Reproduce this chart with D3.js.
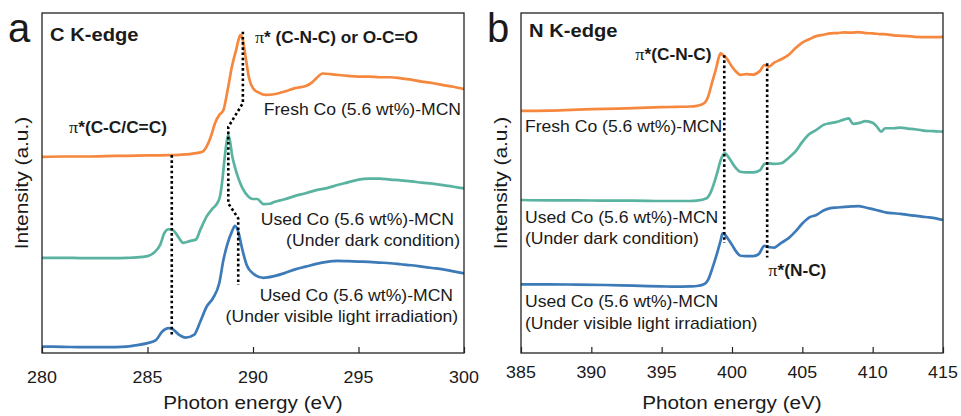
<!DOCTYPE html>
<html><head><meta charset="utf-8">
<script src="https://cdn.jsdelivr.net/npm/d3@7"></script>
<style>
html,body{margin:0;padding:0;background:#fff;}
svg{display:block;font-family:"Liberation Sans",Arial,sans-serif;}
</style></head>
<body><svg id="chart" width="961" height="416"></svg>
<script>
// ---------- DATA ----------
const cTicks = [280, 285, 290, 295, 300];
const nTicks = [385, 390, 395, 400, 405, 410, 415];
const seriesNames = ["Fresh", "Used (dark)", "Used (visible light)"];
const seriesColors = ["#F5883E", "#5AB3A0", "#3D7AB8"];

// C K-edge spectra [photon energy (eV), intensity (a.u., offset)]
const cFresh = [[280,57.7],[281,57.8],[282,57.8],[283,57.9],[284,58.0],[285,58.1],[286,58.2],[286.5,58.3],[287,58.5],[287.3,58.8],[287.6,59.2],[287.8,60.7],[288,63.6],[288.2,67.6],[288.4,70.0],[288.6,71.5],[288.8,77.4],[289,84.2],[289.1,86.8],[289.2,89.1],[289.3,91.8],[289.4,93.5],[289.5,92.5],[289.6,89.1],[289.7,85.0],[289.8,81.2],[290,77.9],[290.3,76.5],[290.6,75.9],[291,76.1],[291.5,76.9],[292,77.9],[292.5,78.5],[292.8,79.6],[293,80.8],[293.3,82.2],[293.7,82.0],[294,81.8],[294.5,81.5],[295,81.3],[295.5,81.3],[296,81.1],[296.5,81.1],[297,80.8],[297.5,80.4],[298,79.8],[298.5,79.4],[299,78.8],[299.5,78.3],[300,77.6]];
const cDark = [[280,28.0],[281,28.0],[282,27.9],[283,27.9],[284,28.0],[284.5,28.1],[285,28.5],[285.3,29.5],[285.6,31.8],[285.8,35.3],[286,36.4],[286.2,36.2],[286.4,34.7],[286.7,32.4],[287,32.9],[287.3,33.4],[287.5,36.2],[287.8,40.1],[288.1,42.6],[288.3,44.0],[288.45,46.5],[288.55,51],[288.65,57],[288.75,62],[288.83,64.1],[288.92,62],[289,58.5],[289.15,54.5],[289.3,51.5],[289.5,48.5],[289.8,45.9],[290,45.3],[290.2,45.3],[290.5,43.8],[290.8,43.9],[291,44.4],[291.5,45.2],[292,46.2],[292.5,47.0],[293,47.9],[293.5,48.5],[294,49.4],[294.5,50.2],[295,51.0],[295.5,51.3],[296,51.3],[296.5,51.0],[297,50.8],[297.5,50.5],[298,50.1],[298.5,49.8],[299,49.4],[299.5,48.9],[300,48.4]];
const cLight = [[280,1.9],[281,1.8],[282,1.7],[283,1.7],[284,1.9],[284.5,2.3],[285,2.9],[285.4,3.8],[285.7,6.3],[286,7.3],[286.2,7.0],[286.5,5.3],[286.8,4.5],[287.2,5.3],[287.5,9.2],[287.8,13.6],[288.1,16.1],[288.4,20.5],[288.6,27.4],[288.8,32.3],[289,35.7],[289.15,37.4],[289.3,35.7],[289.5,30.3],[289.7,25.9],[290,23.4],[290.5,22.1],[291,22.6],[291.5,23.5],[292,24.6],[292.5,25.4],[293,26.2],[293.5,26.8],[294,27.1],[294.5,27.0],[295,26.9],[295.5,26.8],[296,26.6],[296.5,26.4],[297,26.1],[297.5,25.8],[298,25.4],[298.5,25.0],[299,24.6],[299.5,24.0],[300,23.4]];

// N K-edge spectra
const nFresh = [[385,71.2],[387,71.3],[389,71.6],[391,71.8],[393,72.0],[395,72.3],[396,72.4],[397,72.5],[397.5,72.7],[398,73.4],[398.3,75.4],[398.6,79.8],[398.9,84.2],[399.05,86.8],[399.2,88.1],[399.35,87.6],[399.6,86.7],[400,84.2],[400.3,82.7],[400.6,81.8],[401,82.0],[401.5,81.9],[402,83.0],[402.3,84.7],[402.6,84.2],[403,85.4],[403.5,86.4],[404,87.6],[404.5,89.6],[405,91.3],[405.5,92.3],[406,93.2],[406.5,93.6],[407,94.0],[407.5,94.1],[408,94.3],[408.5,94.2],[409,94.4],[409.5,94.1],[410,94.0],[410.5,93.8],[411,93.7],[411.5,93.4],[412,93.3],[412.5,93.2],[413,93.0],[414,92.9],[415,93.0]];
const nDark = [[385,45.0],[387,44.9],[389,44.9],[391,44.8],[393,44.8],[395,44.7],[397,44.7],[397.5,44.8],[398.2,45.5],[398.5,47.4],[398.8,50.9],[399,53.8],[399.2,56.8],[399.5,58.7],[399.8,57.3],[400.2,54.8],[400.6,53.3],[401,53.1],[401.5,53.1],[402,53.8],[402.3,55.6],[402.6,55.8],[403,55.6],[403.5,55.8],[404,57.3],[404.5,59.2],[405,62.1],[405.5,64.4],[406,65.6],[406.5,67.1],[407,67.6],[407.5,68.0],[408,68.7],[408.3,69.0],[408.6,67.4],[409,67.6],[409.5,68.2],[410,67.7],[410.3,66.6],[410.6,65.1],[410.9,66.1],[411.5,66.1],[412,66.3],[412.5,66.0],[413,65.8],[413.5,65.5],[414,65.3],[414.5,65.2],[415,65.1]];
const nLight = [[385,20.2],[387,20.2],[389,20.1],[391,20.0],[393,19.8],[395,19.6],[396,19.5],[397,19.6],[397.5,19.7],[398,20.2],[398.3,21.5],[398.6,24.9],[398.9,28.8],[399.2,33.2],[399.33,35.2],[399.5,34.8],[399.7,33.7],[400,31.8],[400.3,29.8],[400.6,28.6],[401,28.5],[401.5,28.5],[401.9,29.1],[402.3,31.5],[402.7,31.1],[403,31.0],[403.5,32.4],[404,33.7],[404.5,35.7],[405,38.1],[405.5,39.9],[406,40.6],[406.5,41.9],[407,42.6],[407.5,42.8],[408,43.0],[408.5,43.1],[409,43.2],[409.5,42.8],[410,42.3],[410.5,41.8],[411,41.3],[411.5,41.1],[412,40.9],[412.5,40.6],[413,40.4],[413.5,40.1],[414,39.9],[414.5,39.6],[415,39.1]];

// dotted guide lines (data coordinates)
const cGuideA = [[286.15,58.2],[286.15,5.3]];
const cGuideB = [[289.52,94.5],[289.52,73.5],[288.83,66.5],[288.83,44.0],[289.3,39.6],[289.3,20.0]];
const nGuideA = [[399.45,87.6],[399.45,32.4]];
const nGuideB = [[402.5,85.2],[402.5,28.1]];

const sampleLabel = "Co (5.6 wt%)-MCN";

// ---------- DRAW ----------
const svg = d3.select("#chart");
const yTop = 13, yBot = 353;

function stext(g, x, y, str, opt) {
  opt = opt || {};
  const sx = opt.sx || 1.1;
  const t = g.append("text")
    .attr("transform", `translate(${x},${y})` + (opt.rot ? ` rotate(${opt.rot})` : "") + ` scale(${sx},1)`)
    .attr("text-anchor", opt.anchor || "start")
    .attr("font-size", opt.size || 16)
    .attr("font-weight", opt.bold ? "bold" : "normal")
    .attr("fill", "#1a1a1a");
  if (opt.pi) {
    t.append("tspan").attr("font-family", "'Liberation Serif','Times New Roman',serif").attr("font-weight","normal").attr("font-size", (opt.size||16)*1.05).text("π");
    t.append("tspan").text(str);
  } else t.text(str);
  return t;
}

function panel(cfg) {
  const x = d3.scaleLinear().domain(cfg.domain).range([cfg.x0, cfg.x1]);
  const y = d3.scaleLinear().domain([0, 100]).range([yBot, yTop]);
  const g = svg.append("g");

  const line = d3.line().x(d => x(d[0])).y(d => y(d[1])).curve(d3.curveMonotoneX);
  cfg.series.forEach((s, i) => {
    g.append("path").datum(s).attr("d", line)
      .attr("fill", "none").attr("stroke", seriesColors[i])
      .attr("stroke-width", 2.7).attr("stroke-linejoin", "round");
  });
  const gl = d3.line().x(d => x(d[0])).y(d => y(d[1]));
  cfg.guides.forEach(gd => {
    g.append("path").datum(gd).attr("d", gl)
      .attr("fill", "none").attr("stroke", "#000")
      .attr("stroke-width", 2.6).attr("stroke-dasharray", "2.6,2.6");
  });

  // frame
  g.append("rect").attr("x", cfg.x0).attr("y", yTop)
    .attr("width", cfg.x1 - cfg.x0).attr("height", yBot - yTop)
    .attr("fill", "none").attr("stroke", "#222").attr("stroke-width", 1.3);

  // bottom axis: major ticks inward, minor ticks at half step
  const minor = [];
  for (let v = cfg.domain[0] + 2.5; v < cfg.domain[1]; v += 5) minor.push(v);
  const ax = g.append("g").attr("transform", `translate(0,${yBot})`);
  ax.call(d3.axisBottom(x).tickValues(minor).tickSize(-3).tickFormat(""));
  ax.call(d3.axisBottom(x).tickValues(cfg.ticks).tickSize(-6).tickFormat(""));
  ax.selectAll(".domain").remove();
  ax.selectAll("line").attr("stroke", "#222").attr("stroke-width", 1.2);
  cfg.ticks.forEach(t => stext(g, x(t), cfg.tickY, String(t), {anchor: "middle", size: 17, sx: 1.05}));

  stext(g, (cfg.x0 + cfg.x1) / 2, 409, "Photon energy (eV)", {anchor: "middle", size: 19, sx: 1.09});
  stext(g, cfg.x0 - 14.5, (yTop + yBot) / 2, "Intensity (a.u.)", {anchor: "middle", size: 19, sx: 1.1, rot: -90});
  stext(g, cfg.x0 - 34, 42, cfg.letter, {size: 40, sx: 1.0});
  stext(g, cfg.x0 + 8, cfg.edgeY, cfg.edge, {size: 18, bold: true, sx: 1.12});
  cfg.notes(g, x, y);
}

panel({
  domain: [280, 300], x0: 42, x1: 464, ticks: cTicks, tickY: 383,
  series: [cFresh, cDark, cLight], guides: [cGuideA, cGuideB],
  letter: "a", edge: "C K-edge", edgeY: 41,
  notes: (g, x, y) => {
    stext(g, x(290.09), y(91.3), "* (C-N-C) or O-C=O", {bold: true, size: 16, pi: true, sx: 1.08});
    stext(g, x(281.28), y(64.7), "*(C-C/C=C)", {bold: true, size: 16, pi: true, sx: 1.08});
    stext(g, x(299.86), y(70.0), "Fresh " + sampleLabel, {anchor: "end"});
    stext(g, x(299.53), y(37.6), "Used " + sampleLabel, {anchor: "end"});
    stext(g, x(299.81), y(31.5), "(Under dark condition)", {anchor: "end"});
    stext(g, x(299.48), y(15.4), "Used " + sampleLabel, {anchor: "end"});
    stext(g, x(299.72), y(9.2), "(Under visible light irradiation)", {anchor: "end"});
  }
});

panel({
  domain: [385, 415], x0: 521, x1: 943, ticks: nTicks, tickY: 378,
  series: [nFresh, nDark, nLight], guides: [nGuideA, nGuideB],
  letter: "b", edge: "N K-edge", edgeY: 37,
  notes: (g, x, y) => {
    stext(g, x(398.55), y(86.2), "*(C-N-C)", {bold: true, size: 16, pi: true, sx: 1.08, anchor: "end"});
    stext(g, x(402.58), y(22.6), "*(N-C)", {bold: true, size: 16, pi: true, sx: 1.08});
    stext(g, x(385.28), y(65.0), "Fresh " + sampleLabel);
    stext(g, x(385.28), y(38.3), "Used " + sampleLabel);
    stext(g, x(385.28), y(32.1), "(Under dark condition)");
    stext(g, x(385.28), y(13.4), "Used " + sampleLabel);
    stext(g, x(385.28), y(7.0), "(Under visible light irradiation)");
  }
});
</script></body></html>
